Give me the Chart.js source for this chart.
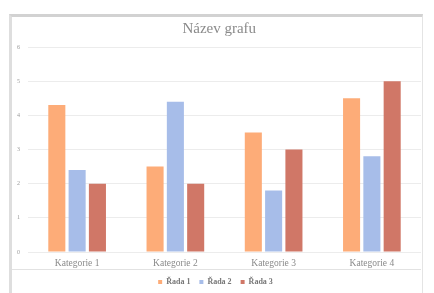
<!DOCTYPE html>
<html lang="cs">
<head>
    <meta charset="UTF-8">
    <title>Název grafu</title>
    <script src="https://cdn.jsdelivr.net/npm/chart.js"></script>
    <style>
        body {
            margin: 0;
            background: #fff;
            width: 434px;
            height: 293px;
            position: relative;
            overflow: hidden;
        }
        .frame {
            position: absolute;
            left: 9px;
            top: 14px;
            width: 410px;
            height: 276px;
            border: 1px solid #e4e4e4;
            border-top: 3px solid #d2d2d2;
            border-left: 3px solid #dedede;
        }
        .sep {
            position: absolute;
            left: 12px;
            top: 269px;
            width: 409px;
            height: 1px;
            background: #e2e2e2;
        }
        canvas {
            position: absolute;
            left: 0;
            top: 4px;
        }
    </style>
</head>
<body>
    <div class="frame"></div>
    <div class="sep"></div>
    <canvas id="chart" width="434" height="293"></canvas>

    <script>
        const categories = ['Kategorie 1', 'Kategorie 2', 'Kategorie 3', 'Kategorie 4'];
        const rada1 = [4.3, 2.5, 3.5, 4.5];
        const rada2 = [2.4, 4.4, 1.8, 2.8];
        const rada3 = [2, 2, 3, 5];
        const seriesNames = ['Řada 1', 'Řada 2', 'Řada 3'];
        const colors = ['#fdac78', '#a7bde9', '#d07767'];

        const font = "'Liberation Serif', serif";

        new Chart(document.getElementById('chart'), {
            type: 'bar',
            data: {
                labels: categories,
                datasets: [rada1, rada2, rada3].map((d, i) => ({
                    label: seriesNames[i],
                    data: d,
                    backgroundColor: colors[i],
                    categoryPercentage: 0.62,
                    barPercentage: 0.84
                }))
            },
            options: {
                responsive: false,
                animation: false,
                layout: { padding: { left: 10, right: 13, top: 11, bottom: 1 } },
                plugins: {
                    title: {
                        display: true,
                        text: '\u00a0\u00a0Název grafu',
                        color: '#8a8a8a',
                        font: { family: font, size: 15, weight: 'normal' },
                        padding: { top: 5, bottom: 9 }
                    },
                    legend: {
                        position: 'bottom',
                        labels: {
                            color: '#777',
                            font: { family: font, size: 8, weight: 'bold' },
                            boxWidth: 4,
                            boxHeight: 4,
                            padding: 9
                        }
                    },
                    tooltip: { enabled: false }
                },
                scales: {
                    x: {
                        grid: { display: false, drawTicks: false },
                        border: { display: false },
                        ticks: {
                            color: '#8a8a8a',
                            font: { family: font, size: 9.5 },
                            padding: 6,
                            maxRotation: 0
                        },
                        afterFit: s => { s.height = 17; }
                    },
                    y: {
                        min: 0,
                        max: 6,
                        ticks: {
                            stepSize: 1,
                            color: '#9a9a9a',
                            font: { family: font, size: 6 },
                            padding: 8
                        },
                        grid: { color: '#ececec', drawTicks: false },
                        border: { display: false },
                        afterFit: s => { s.width = 18; }
                    }
                }
            }
        });
    </script>
</body>
</html>
